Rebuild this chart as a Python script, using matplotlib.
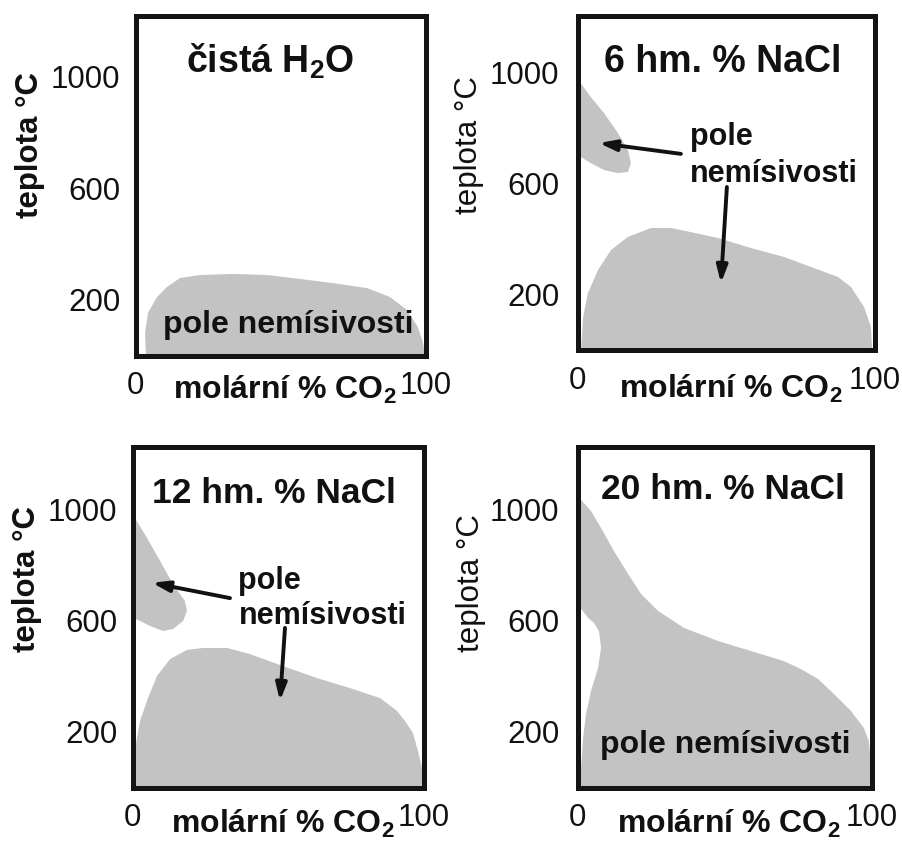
import matplotlib
matplotlib.use("Agg")
import matplotlib.pyplot as plt

plt.rcParams['font.family'] = ['Liberation Sans', 'DejaVu Sans']
plt.rcParams['mathtext.fontset'] = 'custom'
plt.rcParams['mathtext.rm'] = 'Liberation Sans:bold'
plt.rcParams['mathtext.it'] = 'Liberation Sans:bold'
plt.rcParams['mathtext.bf'] = 'Liberation Sans:bold'

# ---- data -------------------------------------------------------------
titles = ['čistá H$_2$O', '6 hm. % NaCl', '12 hm. % NaCl', '20 hm. % NaCl']
t_ticks = [200, 600, 1000]
x_ticks = [0, 100]
x_label = 'molární % CO$_2$'
y_label = 'teplota °C'
field_label = 'pole nemísivosti'

# pure water: immiscibility field below the solvus
h2o_x = [3.6, 3.3, 4.3, 7.4, 10.8, 15.3, 22.2, 33.6, 45.3, 56.6, 68.0, 79.7,
         87.6, 93.5, 97.2, 99.0, 99.7]
h2o_t = [0, 81, 153, 210, 246, 278, 289, 293, 289, 275, 260, 242,
         210, 163, 102, 45, 0]

# 6 wt.% NaCl: high-temperature lobe and low-temperature field
nacl6_hi_x = [0, 4.5, 8.9, 13.6, 17.0, 18.0, 17.0, 13.6, 8.9, 4.5, 0]
nacl6_hi_t = [975, 910, 853, 781, 720, 673, 641, 637, 648, 673, 702]
nacl6_lo_x = [1.2, 1.9, 3.5, 6.9, 11.3, 17.0, 24.7, 31.5, 38.2, 47.3, 58.4,
              69.5, 78.6, 87.7, 92.1, 96.5, 98.8, 99.2]
nacl6_lo_t = [0, 120, 206, 289, 361, 408, 440, 440, 425, 404, 368,
              336, 300, 264, 228, 156, 84, 0]

# 12 wt.% NaCl
nacl12_hi_x = [0, 5.0, 9.5, 13.9, 18.0, 18.7, 17.4, 13.9, 10.5, 6.0, 2.6, 0]
nacl12_hi_t = [982, 896, 813, 731, 670, 634, 598, 569, 562, 580, 598, 609]
nacl12_lo_x = [0.2, 0.9, 2.6, 5.3, 8.4, 12.9, 18.7, 24.2, 32.5, 40.4, 51.7,
               63.4, 74.7, 85.1, 90.9, 93.6, 96.4, 98.1, 99.5, 99.8]
nacl12_lo_t = [0, 141, 239, 321, 400, 461, 494, 501, 501, 479, 436,
               393, 357, 321, 275, 239, 196, 131, 70, 0]

# 20 wt.% NaCl: one merged field with a small miscible notch near pure water
nacl20_x = [0, 4.6, 8.0, 12.4, 17.2, 21.6, 27.4, 36.2, 47.8, 59.0, 70.2, 76.0,
            81.8, 87.2, 93.0, 97.4, 99.1, 100, 100, 0.8, 1.9, 2.9, 4.6, 7.0,
            8.0, 7.3, 5.6, 3.6, 0]
nacl20_t = [1047, 993, 932, 849, 767, 695, 634, 573, 526, 490, 454, 425,
            390, 336, 275, 214, 167, 60, 0, 0, 178, 264, 347, 429,
            501, 562, 591, 609, 659]

# ---- style --------------------------------------------------------------
GRAY = '#c3c3c3'
INK = '#141414'
TXT = '#111111'
W, H = 902, 843

fig = plt.figure(figsize=(W / 100, H / 100), dpi=100)
fig.patch.set_facecolor('white')

# frame edges in pixels: left, right, top, bottom
frames = [(135.5, 426.0, 15.5, 355.5),
          (577.5, 874.5, 15.5, 350.5),
          (132.5, 423.5, 446.5, 787.5),
          (577.5, 871.5, 446.5, 787.5)]
PX_PER_DEG = 0.2785

regions = [
    [(h2o_x, h2o_t)],
    [(nacl6_hi_x, nacl6_hi_t), (nacl6_lo_x, nacl6_lo_t)],
    [(nacl12_hi_x, nacl12_hi_t), (nacl12_lo_x, nacl12_lo_t)],
    [(nacl20_x, nacl20_t)],
]
ylabel_bold = [True, False, True, False]
ylabel_pos = [(-0.363, 0.619), (-0.365, 0.613), (-0.363, 0.611), (-0.362, 0.600)]
xlabel_pos = [(0.515, -0.128), (0.517, -0.142), (0.517, -0.133), (0.515, -0.133)]
title_pos = [(46.3, 1014, 27), (49.0, 1000, 27), (48.6, 1021, 25.5), (49.5, 1036, 25.5)]

axes = []
for i, (l, r, t, b) in enumerate(frames):
    ax = fig.add_axes([l / W, 1 - b / H, (r - l) / W, (b - t) / H])
    axes.append(ax)
    ax.set_xlim(0, 100)
    ax.set_ylim(0, (b - t) / PX_PER_DEG)
    for xs, ts in regions[i]:
        ax.fill(xs, ts, color=GRAY, lw=0, zorder=1)
    for sp in ax.spines.values():
        sp.set_linewidth(3.6)
        sp.set_color(INK)
        sp.set_zorder(5)
    ax.set_xticks(x_ticks)
    ax.set_xticklabels([str(v) for v in x_ticks])
    ax.set_yticks(t_ticks)
    ax.set_yticklabels([str(v) for v in t_ticks])
    ax.tick_params(length=0, labelsize=22.5, colors=TXT)
    ax.tick_params(axis='x', pad=11)
    ax.tick_params(axis='y', pad=11 if i in (0, 2) else 13)

    tx, ty, tfs = title_pos[i]
    ax.text(tx, ty, titles[i], ha='center', va='baseline', fontsize=tfs,
            fontweight='bold', color=TXT, zorder=6)
    ax.text(*xlabel_pos[i], x_label, transform=ax.transAxes, ha='center',
            va='baseline', fontsize=23, fontweight='bold', color=TXT)
    ax.text(*ylabel_pos[i], y_label, transform=ax.transAxes, rotation=90,
            ha='center', va='center', fontsize=22.5,
            fontweight='bold' if ylabel_bold[i] else 'normal', color=TXT)

# single-line labels inside the field
axes[0].text(52.5, 80, field_label, ha='center', va='baseline', fontsize=23,
             fontweight='bold', color=TXT, zorder=6)
axes[3].text(50.2, 124, field_label, ha='center', va='baseline', fontsize=23,
             fontweight='bold', color=TXT, zorder=6)

# two-line labels with arrows to both fields
word1, word2 = field_label.split(' ')
arrow_kw = dict(arrowstyle='-|>,head_length=1.0,head_width=0.32',
                mutation_scale=10, lw=2.8, color=TXT,
                shrinkA=0, shrinkB=0)
label_arrows = [
    (axes[1], (37.9, 738), (37.9, 606), [((34.8, 706), (7.2, 745)),
                                         ((50.3, 587), (48.3, 242))]),
    (axes[2], (36.4, 712), (36.4, 586), [((33.5, 680), (6.7, 735)),
                                         ((52.4, 573), (50.7, 311))]),
]
for ax, p1, p2, arrows in label_arrows:
    ax.text(*p1, word1, ha='left', va='baseline', fontsize=22,
            fontweight='bold', color=TXT, zorder=6)
    ax.text(*p2, word2, ha='left', va='baseline', fontsize=22,
            fontweight='bold', color=TXT, zorder=6)
    for tail, head in arrows:
        ax.annotate('', xy=head, xytext=tail, arrowprops=arrow_kw, zorder=6)

fig.savefig('out.png', dpi=100, facecolor='white')
